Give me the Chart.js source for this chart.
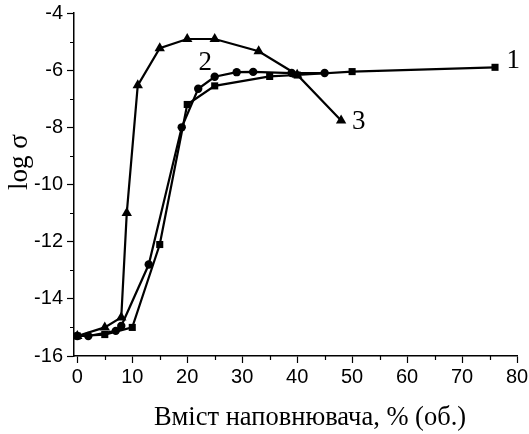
<!DOCTYPE html>
<html>
<head>
<meta charset="utf-8">
<script src="https://cdn.jsdelivr.net/npm/chart.js@4"></script>
<style>
html,body{margin:0;padding:0;background:#fff;}
#wrap{width:529px;height:434px;position:relative;}
</style>
</head>
<body>
<div id="wrap"><canvas id="c" width="529" height="434"></canvas></div>
<script>
// Curve 1 (squares)
const curve1X = [0, 5, 10, 15, 20, 25, 35, 40, 50, 76];
const curve1Y = [-15.3, -15.25, -15.0, -12.1, -7.2, -6.55, -6.22, -6.17, -6.05, -5.9];
// Curve 2 (circles)
const curve2X = [0, 2, 7, 8, 13, 19, 22, 25, 29, 32, 39, 45];
const curve2Y = [-15.3, -15.3, -15.12, -14.95, -12.8, -8.0, -6.65, -6.23, -6.07, -6.06, -6.1, -6.1];
// Curve 3 (triangles)
const curve3X = [0, 5, 8, 9, 11, 15, 20, 25, 33, 40, 48];
const curve3Y = [-15.3, -15.0, -14.65, -11.0, -6.53, -5.23, -4.91, -4.91, -5.34, -6.16, -7.76];

const xTicks = [0, 10, 20, 30, 40, 50, 60, 70, 80];
const xMinor = [5, 15, 25, 35, 45, 55, 65, 75];
const yTicks = [-16, -14, -12, -10, -8, -6, -4];
const yMinor = [-15, -13, -11, -9, -7, -5];

const curveLabels = [
  {text: '1', x: 79.3, y: -5.68},
  {text: '2', x: 23.3, y: -5.75},
  {text: '3', x: 51.2, y: -7.82}
];
const xTitle = 'Вміст наповнювача, % (об.)';
const yTitle = 'log σ';

function pts(xs, ys){ return xs.map((x,i)=>({x:x, y:ys[i]})); }

const minorPlugin = {
  id: 'extras',
  afterDraw(chart){
    const ctx = chart.ctx;
    const xs = chart.scales.x, ys = chart.scales.y;
    const ca = chart.chartArea;
    ctx.save();
    ctx.strokeStyle = '#000';
    ctx.lineWidth = 1.2;
    ctx.beginPath();
    xMinor.forEach(v=>{
      const p = Math.round(xs.getPixelForValue(v))+0.5;
      ctx.moveTo(p, ca.bottom); ctx.lineTo(p, ca.bottom+4);
    });
    yMinor.forEach(v=>{
      const p = Math.round(ys.getPixelForValue(v))+0.5;
      ctx.moveTo(ca.left, p); ctx.lineTo(ca.left-4, p);
    });
    ctx.stroke();
    // curve labels
    ctx.fillStyle = '#000';
    ctx.font = '27px "Liberation Serif", "Times New Roman", serif';
    ctx.textAlign = 'center';
    ctx.textBaseline = 'middle';
    curveLabels.forEach(l=>{
      ctx.fillText(l.text, xs.getPixelForValue(l.x), ys.getPixelForValue(l.y));
    });
    // axis titles
    ctx.textBaseline = 'alphabetic';
    ctx.font = '26.5px "Liberation Serif", "Times New Roman", serif';
    ctx.fillText(xTitle, 310, 425);
    ctx.save();
    ctx.translate(27, 162);
    ctx.rotate(-Math.PI/2);
    ctx.font = '27px "Liberation Serif", "Times New Roman", serif';
    ctx.fillText(yTitle, 0, 0);
    ctx.restore();
    ctx.restore();
  }
};

const common = {
  showLine: true,
  borderColor: '#000',
  backgroundColor: '#000',
  borderWidth: 2.2,
  tension: 0,
  pointBorderWidth: 0,
  pointHoverRadius: 5
};

new Chart(document.getElementById('c'), {
  type: 'scatter',
  data: {
    datasets: [
      Object.assign({label:'1', data: pts(curve1X, curve1Y), pointStyle:'rect', pointRadius:5}, common),
      Object.assign({label:'2', data: pts(curve2X, curve2Y), pointStyle:'circle', pointRadius:4.2}, common),
      Object.assign({label:'3', data: pts(curve3X, curve3Y), pointStyle:'triangle', pointRadius:6}, common)
    ]
  },
  options: {
    responsive: false,
    animation: false,
    devicePixelRatio: 1,
    layout: {padding: {top: 13, right: 12, left: 0, bottom: 0}},
    plugins: {legend: {display: false}, tooltip: {enabled: false}},
    scales: {
      x: {
        type: 'linear',
        min: -0.6, max: 80,
        afterBuildTicks(s){ s.ticks = xTicks.map(v=>({value:v})); },
        afterFit(s){ s.height = 78; s.paddingLeft = 0; s.paddingRight = 0; },
        grid: {display: true, drawOnChartArea: false, drawTicks: true, tickLength: 7, color: '#000', tickWidth: 1.2},
        border: {display: true, color: '#000', width: 1.5},
        ticks: {color: '#000', padding: 2, maxRotation: 0, autoSkip: false,
          font: {family: '"Liberation Sans", Arial, sans-serif', size: 20}}
      },
      y: {
        type: 'linear',
        min: -16, max: -4,
        afterBuildTicks(s){ s.ticks = yTicks.map(v=>({value:v})); },
        afterFit(s){ s.width = 74; s.paddingTop = 0; s.paddingBottom = 0; },
        grid: {display: true, drawOnChartArea: false, drawTicks: true, tickLength: 7, color: '#000', tickWidth: 1.2},
        border: {display: true, color: '#000', width: 1.5},
        ticks: {color: '#000', padding: 4, autoSkip: false,
          font: {family: '"Liberation Sans", Arial, sans-serif', size: 20}}
      }
    }
  },
  plugins: [minorPlugin]
});
</script>
</body>
</html>
